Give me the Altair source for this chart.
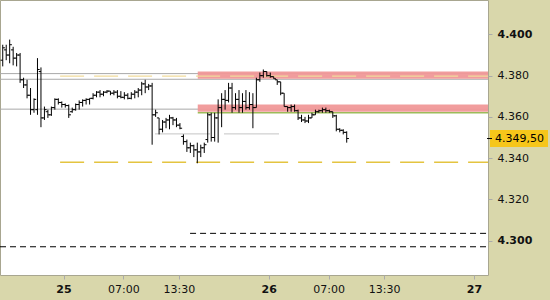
import altair as alt
import pandas as pd

# ---- OHLC bars (price points) ----
bar_open = [4387.5, 4392.5, 4390.0, 4392.5, 4388.5, 4390.0, 4378.0, 4375.5, 4370.5, 4363.5,
            4363.5, 4382.0, 4359.5, 4362.5, 4361.0, 4364.5, 4368.5, 4367.0, 4366.0, 4365.5,
            4362.5, 4363.5, 4366.0, 4367.0, 4368.0, 4368.5, 4369.0, 4370.5, 4372.0, 4371.0,
            4372.0, 4372.5, 4371.5, 4372.0, 4370.0, 4369.5, 4370.5, 4369.0, 4371.0, 4372.0,
            4373.0, 4376.0, 4374.5, 4375.0, 4361.0, 4359.5, 4354.0, 4357.5, 4358.5, 4359.5,
            4358.5, 4356.0, 4350.5, 4348.0, 4345.0, 4346.0, 4344.0, 4343.0, 4345.0, 4349.0,
            4361.0, 4350.0, 4359.5, 4364.5, 4368.5, 4368.0, 4374.0, 4364.5, 4368.5, 4364.5,
            4367.5, 4364.5, 4366.0, 4364.5, 4378.0, 4380.0, 4382.0, 4380.0, 4379.5, 4378.0,
            4377.0, 4371.5, 4365.0, 4364.5, 4365.0, 4363.0, 4359.5, 4358.5, 4358.0, 4359.5,
            4361.0, 4362.5, 4363.0, 4363.5, 4363.0, 4362.5, 4360.5, 4354.0, 4353.5, 4352.5]
bar_high = [4395.0, 4395.0, 4397.5, 4394.0, 4391.0, 4391.0, 4379.0, 4378.0, 4374.0, 4369.0,
            4388.5, 4384.0, 4365.0, 4363.5, 4365.0, 4369.0, 4369.0, 4367.5, 4366.5, 4366.0,
            4364.5, 4366.5, 4368.0, 4368.5, 4369.0, 4369.0, 4371.5, 4372.5, 4373.0, 4372.5,
            4373.0, 4372.5, 4373.0, 4373.0, 4372.5, 4372.0, 4371.5, 4372.0, 4373.0, 4374.0,
            4377.0, 4378.0, 4376.0, 4376.5, 4363.5, 4359.5, 4358.5, 4359.5, 4361.0, 4360.0,
            4359.5, 4357.0, 4351.5, 4349.0, 4347.5, 4346.5, 4347.5, 4346.5, 4347.5, 4362.0,
            4362.0, 4362.0, 4368.5, 4371.5, 4373.0, 4376.5, 4376.5, 4371.5, 4373.0, 4371.5,
            4373.0, 4372.0, 4371.5, 4379.0, 4381.5, 4383.0, 4382.0, 4381.5, 4379.5, 4378.0,
            4377.0, 4371.5, 4365.0, 4366.0, 4366.0, 4363.5, 4361.0, 4360.0, 4361.0, 4362.0,
            4363.5, 4363.5, 4364.5, 4364.5, 4363.5, 4362.5, 4361.0, 4354.5, 4354.0, 4353.0]
bar_low = [4384.5, 4387.5, 4386.0, 4385.0, 4384.5, 4376.5, 4374.0, 4369.0, 4361.0, 4362.0,
           4361.0, 4355.0, 4358.5, 4359.5, 4360.5, 4363.5, 4366.0, 4364.5, 4364.5, 4359.5,
           4362.0, 4363.0, 4363.5, 4365.0, 4366.0, 4366.0, 4368.5, 4369.5, 4369.5, 4370.0,
           4371.5, 4370.5, 4370.5, 4369.0, 4369.0, 4368.5, 4368.5, 4368.5, 4369.0, 4369.5,
           4370.5, 4371.5, 4373.0, 4346.5, 4360.0, 4351.5, 4352.5, 4354.5, 4354.0, 4356.0,
           4355.0, 4354.0, 4346.5, 4343.0, 4342.5, 4340.5, 4337.5, 4340.5, 4342.5, 4347.5,
           4348.0, 4348.0, 4347.5, 4355.0, 4363.5, 4367.0, 4362.0, 4363.5, 4362.0, 4362.0,
           4363.5, 4363.5, 4354.5, 4364.5, 4377.0, 4379.0, 4379.5, 4379.0, 4378.5, 4375.5,
           4370.5, 4365.0, 4362.5, 4362.5, 4362.5, 4358.5, 4357.5, 4357.0, 4357.0, 4359.5,
           4361.0, 4362.0, 4362.0, 4362.0, 4362.0, 4359.5, 4353.0, 4352.5, 4351.5, 4347.5]
bar_close = [4393.5, 4390.0, 4395.0, 4388.5, 4390.0, 4378.0, 4375.5, 4370.5, 4363.5, 4368.5,
             4383.0, 4359.5, 4363.5, 4361.0, 4364.5, 4368.5, 4367.0, 4366.0, 4365.5, 4361.0,
             4363.5, 4366.0, 4367.0, 4368.0, 4368.5, 4369.0, 4370.5, 4372.0, 4371.0, 4372.0,
             4372.5, 4371.5, 4372.0, 4370.0, 4369.5, 4370.5, 4369.0, 4371.0, 4372.0, 4373.0,
             4376.0, 4374.5, 4375.0, 4361.0, 4362.0, 4354.0, 4357.5, 4358.5, 4359.5, 4358.5,
             4356.0, 4354.5, 4348.0, 4345.0, 4346.0, 4344.0, 4343.0, 4345.0, 4346.5, 4361.0,
             4350.0, 4359.5, 4364.5, 4368.5, 4368.0, 4374.0, 4364.5, 4368.5, 4364.5, 4367.5,
             4364.5, 4366.0, 4364.5, 4378.0, 4380.0, 4382.0, 4380.0, 4379.5, 4378.5, 4377.0,
             4371.5, 4365.0, 4364.5, 4365.0, 4363.0, 4359.5, 4358.5, 4358.0, 4359.5, 4361.0,
             4362.5, 4363.0, 4363.5, 4363.0, 4362.5, 4360.5, 4354.0, 4353.5, 4352.5, 4349.5]

# bar times in hours from day 25 00:00 (uniform bar spacing)
first_bar_hour = -7.11
bar_step_hours = 0.4064

# ---- reference levels ----
gray_levels = [4381.0, 4378.25, 4363.75]
band_low = [4378.5, 4362.5]
band_high = [4382.0, 4366.0]
band_start_hour = 15.7
green_level = 4362.0
yellow_levels = [4379.75, 4338.0]
yellow_colors = ["#f1dc9c", "#e4c440"]
yellow_widths = [1.2, 1.5]
yellow_start_hour = -0.4
gray_dash_level = 4351.75
gray_dash_span = [10.7, 25.7]
black_levels = [4303.5, 4297.0]
black_start_hours = [14.8, -7.43]
last_price = 4349.5
last_price_text = "4.349,50"

# ---- axes ----
x_domain = [-7.43, 49.65]
y_domain = [4283.3, 4416.7]
x_tick_values = [0, 7, 13.5, 24, 31, 37.5, 48]
x_tick_labels = ["25", "07:00", "13:30", "26", "07:00", "13:30", "27"]
y_tick_values = [4300, 4320, 4340, 4360, 4380, 4400]

font = "DejaVu Sans"
label_map = "{" + ",".join(f"'{v}':'{l}'" for v, l in zip(x_tick_values, x_tick_labels)) + "}"

xs = alt.Scale(domain=x_domain, nice=False, zero=False)
ys = alt.Scale(domain=y_domain, nice=False, zero=False)
xaxis = alt.Axis(values=x_tick_values, labelExpr=f"{label_map}[''+datum.value]",
                 labelFont=font, labelFontSize=11, labelColor="#111111",
                 labelFontWeight={"condition": {"test": "datum.value % 24 === 0", "value": "bold"}, "value": "normal"},
                 tickColor="#aaaaaa", tickSize=4, domain=False, grid=False, title=None,
                 labelPadding=4, labelFlush=False)
yaxis = alt.Axis(values=y_tick_values, orient="right",
                 labelExpr="replace(format(datum.value, ',.0f'), ',', '.')",
                 labelFont=font, labelFontSize=11, labelColor="#111111",
                 labelFontWeight={"condition": {"test": "datum.value % 100 === 0", "value": "bold"}, "value": "normal"},
                 tickColor="#aaaaaa", tickSize=4, domain=False, grid=False, title=None,
                 labelPadding=5, labelFlush=False)

n = len(bar_open)
bars = pd.DataFrame({
    "t": [first_bar_hour + i * bar_step_hours for i in range(n)],
    "open": bar_open, "high": bar_high, "low": bar_low, "close": bar_close,
})

X = lambda f: alt.X(f, scale=xs, axis=xaxis)
Y = lambda f: alt.Y(f, scale=ys, axis=yaxis)

# reference lines
gray_df = pd.DataFrame({"s": [x_domain[0]] * 3, "e": [x_domain[1]] * 3, "p": gray_levels})
gray = alt.Chart(gray_df).mark_rule(color="#a9a9a9", strokeWidth=1).encode(x=X("s:Q"), x2="e:Q", y=Y("p:Q"))

band_df = pd.DataFrame({"s": [band_start_hour] * 2, "e": [x_domain[1]] * 2, "lo": band_low, "hi": band_high})
bands = alt.Chart(band_df).mark_rect(color="#f09898", opacity=0.95).encode(x=X("s:Q"), x2="e:Q", y=Y("lo:Q"), y2="hi:Q")

green_df = pd.DataFrame({"s": [band_start_hour], "e": [x_domain[1]], "p": [green_level]})
green = alt.Chart(green_df).mark_rule(color="#9dbb5a", strokeWidth=1.5).encode(x=X("s:Q"), x2="e:Q", y=Y("p:Q"))

yel_df = pd.DataFrame({"s": [yellow_start_hour] * 2, "e": [x_domain[1]] * 2, "p": yellow_levels,
                       "c": yellow_colors, "w": yellow_widths})
yellow = alt.Chart(yel_df).mark_rule(strokeDash=[24, 10]).encode(
    x=X("s:Q"), x2="e:Q", y=Y("p:Q"), color=alt.Color("c:N", scale=None),
    strokeWidth=alt.StrokeWidth("w:Q", scale=None))

gdash_df = pd.DataFrame({"s": [gray_dash_span[0]], "e": [gray_dash_span[1]], "p": [gray_dash_level]})
gdash = alt.Chart(gdash_df).mark_rule(color="#c4c4c4", strokeWidth=1, strokeDash=[55, 14]).encode(
    x=X("s:Q"), x2="e:Q", y=Y("p:Q"))

black_df = pd.DataFrame({"s": black_start_hours, "e": [x_domain[1]] * 2, "p": black_levels})
black = alt.Chart(black_df).mark_rule(color="#000000", strokeWidth=1, strokeDash=[6, 4]).encode(
    x=X("s:Q"), x2="e:Q", y=Y("p:Q"))

# OHLC bars
hl = alt.Chart(bars).mark_rule(color="#000000", strokeWidth=1).encode(x=X("t:Q"), y=Y("low:Q"), y2="high:Q")
op = alt.Chart(bars).mark_rule(color="#000000", strokeWidth=1, xOffset=-2.2, x2Offset=0).encode(
    x=X("t:Q"), x2="t:Q", y=Y("open:Q"))
cl = alt.Chart(bars).mark_rule(color="#000000", strokeWidth=1, xOffset=0, x2Offset=2.2).encode(
    x=X("t:Q"), x2="t:Q", y=Y("close:Q"))

# last price label on the axis
lp_df = pd.DataFrame({"p": [last_price], "txt": [last_price_text]})
lp_box = alt.Chart(lp_df).mark_rule(color="#f6c61a", strokeWidth=17, strokeCap="butt").encode(
    x=alt.value(490), x2=alt.value(548), y=Y("p:Q"))
lp_tick = alt.Chart(lp_df).mark_rule(color="#000000", strokeWidth=1).encode(
    x=alt.value(487), x2=alt.value(492), y=Y("p:Q"))
lp_text = alt.Chart(lp_df).mark_text(align="left", baseline="middle", font=font, fontSize=11, color="#000000").encode(
    x=alt.value(495), y=Y("p:Q"), text="txt:N")

chart = alt.layer(gray, bands, yellow, green, gdash, black, hl, op, cl, lp_box, lp_tick, lp_text).properties(
    width=488, height=275, background="#d9d7ab",
    padding={"left": 0, "top": 0, "right": 62, "bottom": 25},
    autosize=alt.AutoSizeParams(type="none"),
).configure_view(fill="#ffffff", stroke="#a8a690", strokeWidth=1)

chart.save("out.html", embed_options={"renderer": "svg", "actions": False})
